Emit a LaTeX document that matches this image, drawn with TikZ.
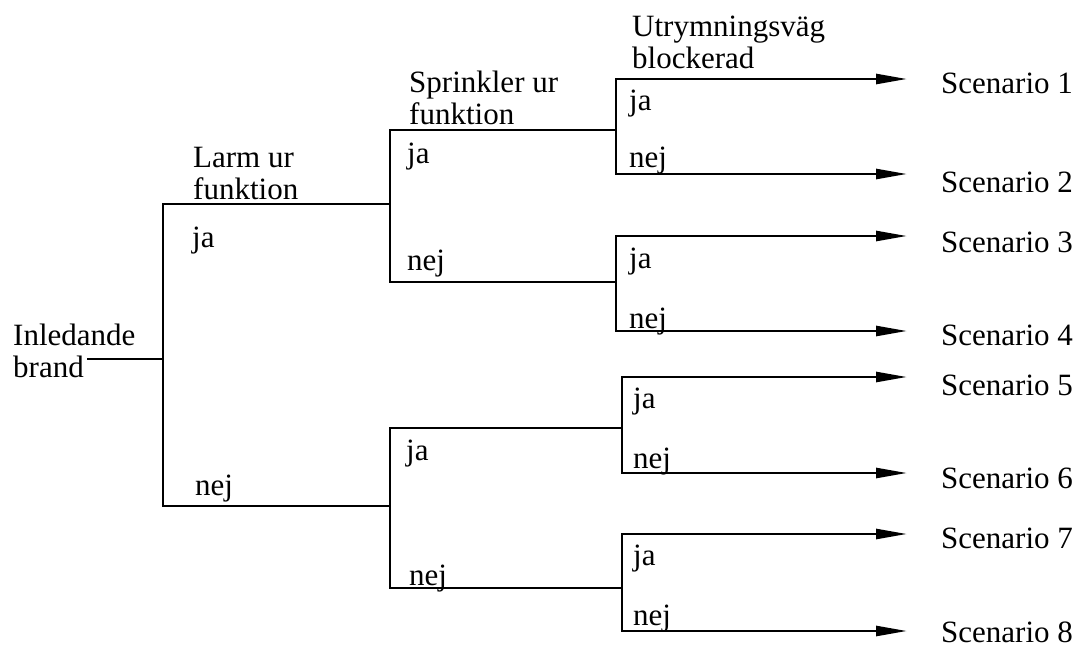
\documentclass[tikz,border=0pt]{standalone}
\usepackage{fontspec}
\setmainfont{Liberation Serif}
\usetikzlibrary{arrows.meta}
\begin{document}
\begin{tikzpicture}[x=1pt,y=-1pt,
  lbl/.style={inner sep=0pt, anchor=base west, font=\fontsize{31}{32}\selectfont, align=left},
  edge/.style={line width=2.6pt, line cap=rect},
  arr/.style={line width=2.6pt, -{Triangle[length=31pt,width=10pt]}}]
\useasboundingbox (0,0) rectangle (1077,648);
% coordinates of the tree
\coordinate (s0) at (88,359);
\coordinate (a) at (163,359);
\coordinate (at) at (163,204);
\coordinate (ab) at (163,506);
\coordinate (bu) at (390,204);
\coordinate (but) at (390,130);
\coordinate (bub) at (390,282);
\coordinate (bl) at (390,506);
\coordinate (blt) at (390,428);
\coordinate (blb) at (390,588);
\coordinate (g1) at (616,130);
\coordinate (g1t) at (616,79);
\coordinate (g1b) at (616,174);
\coordinate (g2) at (616,282);
\coordinate (g2t) at (616,236);
\coordinate (g2b) at (616,331);
\coordinate (g3) at (622,428);
\coordinate (g3t) at (622,377);
\coordinate (g3b) at (622,473);
\coordinate (g4) at (622,588);
\coordinate (g4t) at (622,534);
\coordinate (g4b) at (622,631);
\coordinate (tip) at (907,0);
% texts (two-line nodes: base = baseline of last line)
\node[lbl] (root) at (13,377) {Inledande\\brand};
\node[lbl] (q1) at (193,199) {Larm ur\\funktion};
\node[lbl] (q2) at (409,124) {Sprinkler ur\\funktion};
\node[lbl] (q3) at (632,68) {Utrymningsväg\\blockerad};
\node[lbl] (ja1) at (192,247) {ja};
\node[lbl] (nej1) at (195,495) {nej};
\node[lbl] (ja2u) at (407,163) {ja};
\node[lbl] (nej2u) at (407,270) {nej};
\node[lbl] (ja2l) at (406,460) {ja};
\node[lbl] (nej2l) at (409,585) {nej};
\node[lbl] (ja31) at (629,110) {ja};
\node[lbl] (nej31) at (629,167) {nej};
\node[lbl] (ja32) at (629,268) {ja};
\node[lbl] (nej32) at (629,328) {nej};
\node[lbl] (ja33) at (633,408) {ja};
\node[lbl] (nej33) at (633,468) {nej};
\node[lbl] (ja34) at (633,565) {ja};
\node[lbl] (nej34) at (633,625) {nej};
\node[lbl] (sc1) at (941,93) {Scenario 1};
\node[lbl] (sc2) at (941,192) {Scenario 2};
\node[lbl] (sc3) at (941,252) {Scenario 3};
\node[lbl] (sc4) at (941,345) {Scenario 4};
\node[lbl] (sc5) at (941,395) {Scenario 5};
\node[lbl] (sc6) at (941,488) {Scenario 6};
\node[lbl] (sc7) at (941,548) {Scenario 7};
\node[lbl] (sc8) at (941,642) {Scenario 8};
% tree lines
\draw[edge] (s0) -- (a);
\draw[edge] (at) -- (ab);
\draw[edge] (at) -- (bu);
\draw[edge] (ab) -- (bl);
\draw[edge] (but) -- (bub);
\draw[edge] (blt) -- (blb);
\draw[edge] (but) -- (g1);
\draw[edge] (bub) -- (g2);
\draw[edge] (blt) -- (g3);
\draw[edge] (blb) -- (g4);
\draw[edge] (g1t) -- (g1b);
\draw[edge] (g2t) -- (g2b);
\draw[edge] (g3t) -- (g3b);
\draw[edge] (g4t) -- (g4b);
% arrows to scenarios
\draw[arr] (g1t) -- (g1t -| tip);
\draw[arr] (g1b) -- (g1b -| tip);
\draw[arr] (g2t) -- (g2t -| tip);
\draw[arr] (g2b) -- (g2b -| tip);
\draw[arr] (g3t) -- (g3t -| tip);
\draw[arr] (g3b) -- (g3b -| tip);
\draw[arr] (g4t) -- (g4t -| tip);
\draw[arr] (g4b) -- (g4b -| tip);
\end{tikzpicture}
\end{document}
